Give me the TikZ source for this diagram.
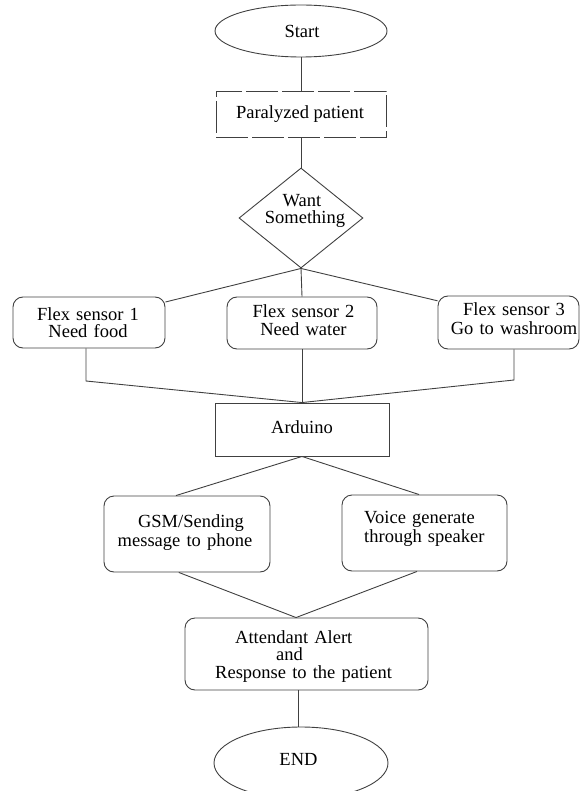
\documentclass[tikz,border=0pt]{standalone}
\usepackage{fontspec}
\setmainfont{Liberation Serif}
\usetikzlibrary{shapes.geometric}
\begin{document}
\begin{tikzpicture}[x=1pt,y=-1pt,
  line/.style={draw=black!75, line width=0.9pt},
  shp/.style={draw=black!75, line width=0.9pt, inner sep=0pt},
  rbox/.style={shp, rectangle, rounded corners=10pt},
  sbox/.style={shp, rectangle},
  oval/.style={shp, ellipse},
  txt/.style={inner sep=0pt, text=black, anchor=base, align=center, font=\fontsize{18.5}{17}\selectfont},
]
\clip (0,0) rectangle (580,791);
% shapes
\node[oval, minimum width=172pt, minimum height=52pt] (start) at (301,31) {};
\node[sbox, dash pattern=on 32pt off 4pt, minimum width=170pt, minimum height=46pt] (para) at (301,114) {};
\node[shp, diamond, aspect=1.24, minimum width=124pt, minimum height=100pt] (want) at (301,218) {};
\node[rbox, minimum width=152pt, minimum height=51pt] (f1) at (89,322.5) {};
\node[rbox, minimum width=150pt, minimum height=52pt] (f2) at (302,323) {};
\node[rbox, minimum width=141pt, minimum height=53pt] (f3) at (508.5,322.5) {};
\node[sbox, minimum width=174pt, minimum height=53pt] (ard) at (302,429.5) {};
\node[rbox, minimum width=166pt, minimum height=76pt] (gsm) at (187,534) {};
\node[rbox, minimum width=165pt, minimum height=76pt] (voice) at (424.5,533) {};
\node[rbox, minimum width=243pt, minimum height=72pt] (att) at (306.5,654) {};
\node[oval, minimum width=174pt, minimum height=72pt] (end) at (301,763) {};
% texts
\node[txt] (tstart) at (302,38) {Start};
\node[txt] (tpara) at (300,119) {Paralyzed patient};
\node[txt, text width=100pt, font=\fontsize{18.5}{17}\selectfont] (twant) at (302,207) {Want\\\hspace*{6pt}Something};
\node[txt, text width=130pt] (tf1) at (88,320) {Flex sensor 1\\Need food};
\node[txt, text width=130pt, font=\fontsize{18.5}{18}\selectfont] (tf2) at (303.5,317) {Flex sensor 2\\Need water};
\node[txt, text width=130pt, font=\fontsize{18.5}{19}\selectfont] (tf3) at (514,315) {Flex sensor 3\\Go to washroom};
\node[txt] (tard) at (302,433) {Arduino};
\node[txt, text width=150pt, font=\fontsize{18.5}{19}\selectfont] (tgsm) at (185,527) {\hspace*{12pt}GSM/Sending\\message to phone};
\node[txt, anchor=base west, align=left, text width=140pt, font=\fontsize{18.5}{19}\selectfont] (tvoice) at (364,523) {Voice generate\\through speaker};
\node[txt, anchor=base west, align=left, text width=200pt, font=\fontsize{18.5}{17.5}\selectfont] (tatt) at (215,643) {\hspace*{20pt}Attendant Alert\\\hspace*{61pt}and\\Response to the patient};
\node[txt] (tend) at (298.5,765) {END};
% junctions
\coordinate (j1) at (86,381);
\coordinate (j3) at (514,380);
% connectors
\draw[line] (start.south) -- (para.north);
\draw[line] (para.south) -- (want.north);
\draw[line] (want.south) -- (f1.15);
\draw[line] (want.south) -- (f2.north);
\draw[line] (want.south) -- (f3.163);
\draw[line] (f1.south -| j1) -- (j1) -- (ard.north);
\draw[line] (f2.south) -- (ard.north);
\draw[line] (f3.south -| j3) -- (j3) -- (ard.north);
\draw[line] (ard.south) -- (gsm.106);
\draw[line] (ard.south) -- (voice.98);
\draw[line] (gsm.258) -- (att.106);
\draw[line] (voice.259) -- (att.106);
\draw[line] (att.257) -- (att.257 |- end.north);
\end{tikzpicture}
\end{document}
